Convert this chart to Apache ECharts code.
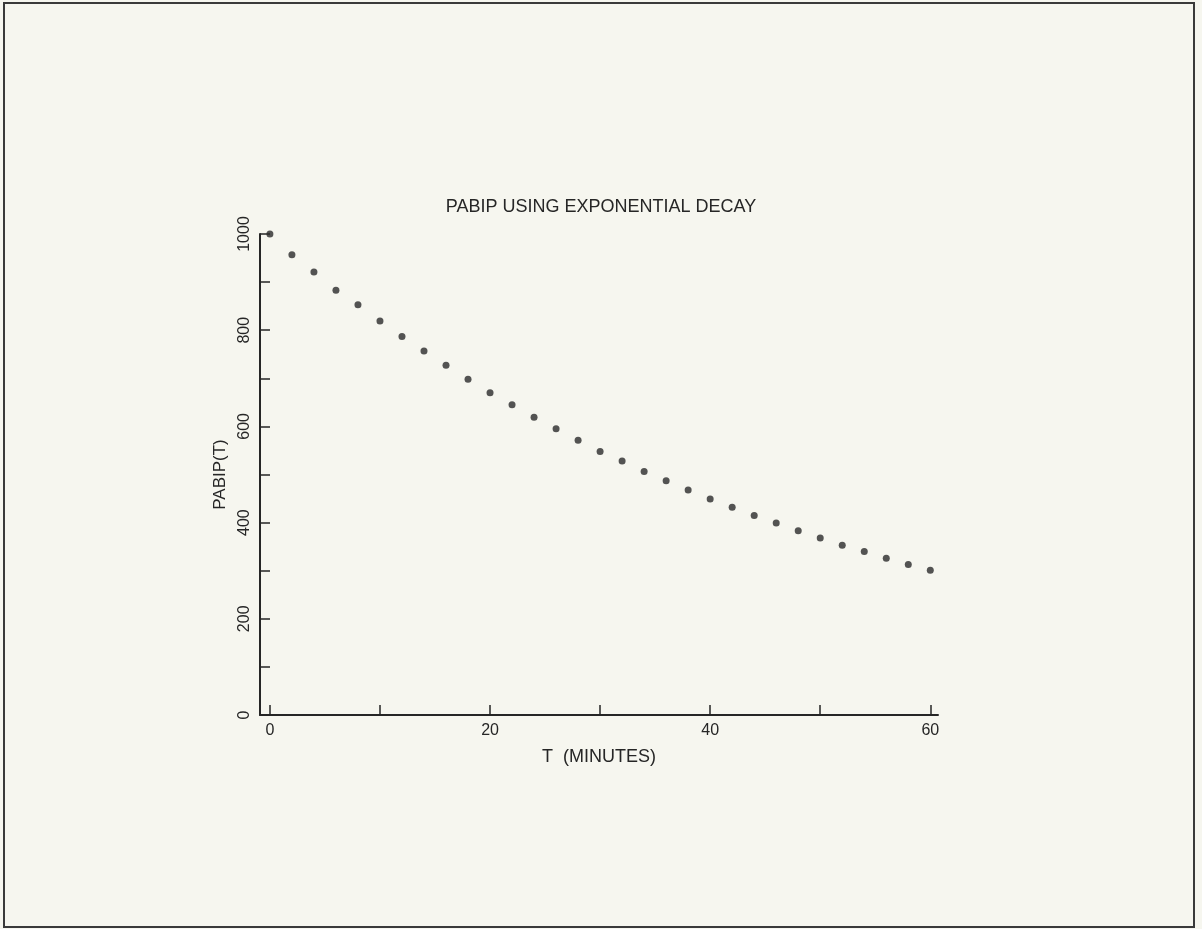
<!DOCTYPE html>
<html>
<head>
<meta charset="utf-8">
<script src="https://cdn.jsdelivr.net/npm/echarts@6/dist/echarts.min.js"></script>
<style>
html,body{margin:0;padding:0;background:#f6f6ef;}
#chart{width:1202px;height:929px;}
</style>
</head>
<body>
<div id="chart"></div>
<script>
const titleText = 'PABIP USING EXPONENTIAL DECAY';
const xName = 'T  (MINUTES)';
const yName = 'PABIP(T)';
const tValues = [0,2,4,6,8,10,12,14,16,18,20,22,24,26,28,30,32,34,36,38,40,42,44,46,48,50,52,54,56,58,60];
const pabipValues = [1000,957,921,883,853,819,787,757,727,698,670,645,619,595,571,548,528,506,487,468,449,432,415,399,383,368,353,340,326,313,301];
const xTicks = [0,10,20,30,40,50,60];
const xLabels = [0,20,40,60];
const yTicks = [0,100,200,300,400,500,600,700,800,900,1000];
const yLabels = [0,200,400,600,800,1000];

const chart = echarts.init(document.getElementById('chart'), null, {renderer:'canvas'});
const ink = '#262626';
const font = '"Liberation Sans", Arial, sans-serif';
chart.setOption({
  backgroundColor: '#f6f6ef',
  animation: false,
  title: {
    text: titleText,
    left: 'center',
    top: 193,
    textStyle: {fontFamily: font, fontSize: 18, fontWeight: 'normal', color: ink}
  },
  graphic: [{
    type: 'rect',
    shape: {x: 4, y: 3, width: 1190, height: 924},
    style: {fill: 'none', stroke: '#3a3a3a', lineWidth: 2},
    silent: true
  }],
  grid: {left: 260, right: 264, top: 234, bottom: 214},
  xAxis: {
    type: 'value',
    min: -0.9,
    max: 60.7,
    name: xName,
    nameLocation: 'middle',
    nameGap: 33,
    nameTextStyle: {fontFamily: font, fontSize: 18, color: ink},
    axisLine: {show: true, onZero: false, lineStyle: {color: ink, width: 2}},
    axisTick: {show: true, inside: true, length: 10, customValues: xTicks, lineStyle: {color: ink, width: 1.5}},
    axisLabel: {customValues: xLabels, fontFamily: font, fontSize: 16, color: ink, margin: 8},
    splitLine: {show: false}
  },
  yAxis: {
    type: 'value',
    min: 0,
    max: 1000,
    name: yName,
    nameLocation: 'middle',
    nameGap: 30,
    nameRotate: 90,
    nameTextStyle: {fontFamily: font, fontSize: 17, color: ink},
    axisLine: {show: true, onZero: false, lineStyle: {color: ink, width: 2}},
    axisTick: {show: true, inside: true, length: 10, customValues: yTicks, lineStyle: {color: ink, width: 1.5}},
    axisLabel: {customValues: yLabels, rotate: 90, fontFamily: font, fontSize: 16, color: ink, margin: 7,
                formatter: function (v) { return String(v); }},
    splitLine: {show: false}
  },
  series: [{
    type: 'scatter',
    data: tValues.map((t, i) => [t, pabipValues[i]]),
    symbol: 'circle',
    symbolSize: 7,
    itemStyle: {color: '#2a2a2a'}
  }]
});
</script>
</body>
</html>
